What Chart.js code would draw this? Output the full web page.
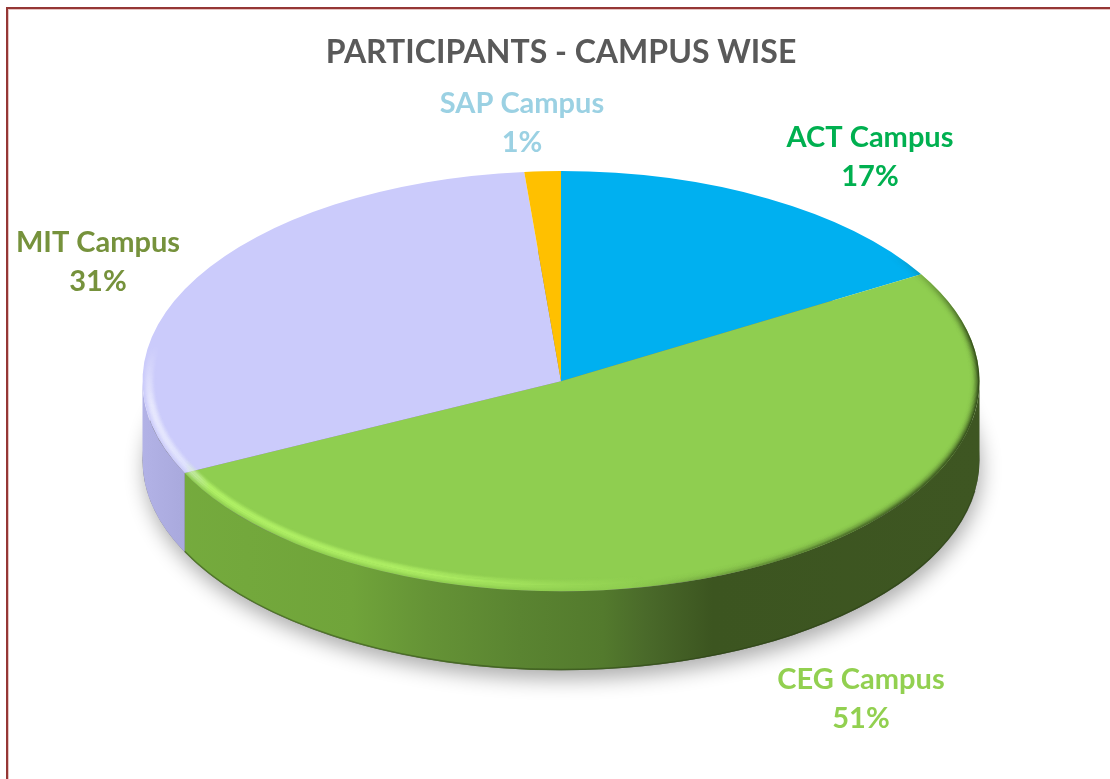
<!DOCTYPE html>
<html>
<head>
<meta charset="utf-8">
<style>
html,body{margin:0;padding:0;background:#fff;overflow:hidden}
#wrap{position:relative;width:1110px;height:779px}
canvas{display:block}
#frame{position:absolute;left:6px;top:7px;right:-10px;bottom:-10px;border-left:2px solid #953735;border-top:2px solid #953735;box-shadow:inset 1px 1px 0 #e6c4c2;pointer-events:none}
</style>
</head>
<body>
<div id="wrap"><canvas id="c" width="1110" height="779"></canvas><div id="frame"></div></div>
<script src="https://cdn.jsdelivr.net/npm/chart.js@4"></script>
<script>
const chartTitle = 'PARTICIPANTS - CAMPUS WISE';
const categories = ['ACT Campus', 'CEG Campus', 'MIT Campus', 'SAP Campus'];
const shareValues = [16.5, 51.3, 30.8, 1.4];
const sliceColors = ['#00B0F0', '#8FCE50', '#CBCBFB', '#FFC000'];
const labelColors = ['#00B050', '#92D050', '#76923C', '#9BD1E3'];

const RX = 418.5, SQUASH = 0.502, DEPTH = 79;
const LABEL_OFFSETS = [[309,-224],[300,318],[-463,-119],[-39,-258]];
const LINE_GAP = 39;
const FONT = 'Lato, Carlito, Calibri, sans-serif';

function wallFill(ctx, i) {
  const g = ctx.createLinearGradient(143, 0, 980, 0);
  if (i === 1) {
    g.addColorStop(0.00, '#76AC3E');
    g.addColorStop(0.25, '#70A43A');
    g.addColorStop(0.34, '#659336');
    g.addColorStop(0.45, '#5A8431');
    g.addColorStop(0.55, '#537A2D');
    g.addColorStop(0.60, '#4A6A2A');
    g.addColorStop(0.68, '#3C5520');
    g.addColorStop(1.00, '#3E5622');
  } else {
    g.addColorStop(0, '#B2B2E6');
    g.addColorStop(0.05, '#A9A9DD');
  }
  return g;
}

function rimLayer(w, h, cx, cy, r, ry, paint, fadeFrom, fadeTo) {
  const off = document.createElement('canvas');
  off.width = w; off.height = h;
  const o = off.getContext('2d');
  paint(o);
  const mask = o.createLinearGradient(0, fadeFrom, 0, fadeTo);
  mask.addColorStop(0, 'rgba(0,0,0,0)');
  mask.addColorStop(1, 'rgba(0,0,0,1)');
  o.globalCompositeOperation = 'destination-in';
  o.fillStyle = mask;
  o.fillRect(0, 0, w, h);
  return off;
}

const pie3d = {
  id: 'pie3d',
  beforeDatasetsDraw(chart) {
    const ctx = chart.ctx;
    const arcs = chart.getDatasetMeta(0).data;
    const cx = arcs[0].x, cy = arcs[0].y, r = arcs[0].outerRadius;
    const ry = r * SQUASH;

    // soft cast shadow
    ctx.save();
    ctx.shadowColor = 'rgba(0,0,0,0.32)';
    ctx.shadowBlur = 20;
    ctx.shadowOffsetX = 2;
    ctx.shadowOffsetY = 9;
    ctx.fillStyle = '#777';
    ctx.beginPath();
    ctx.ellipse(cx, cy + DEPTH, r, ry, 0, 0, Math.PI * 2);
    ctx.fill();
    ctx.restore();

    // side walls
    arcs.forEach((arc, i) => {
      const a0 = Math.max(arc.startAngle, 0), a1 = Math.min(arc.endAngle, Math.PI);
      if (a1 <= a0) return;
      ctx.save();
      ctx.fillStyle = wallFill(ctx, i);
      ctx.beginPath();
      ctx.ellipse(cx, cy + DEPTH, r, ry, 0, a0, a1);
      ctx.ellipse(cx, cy, r, ry, 0, a1, a0, true);
      ctx.closePath();
      ctx.fill();
      ctx.restore();
    });
    // darker lip at the foot of the wall
    ctx.save();
    ctx.strokeStyle = 'rgba(40,60,20,0.45)';
    ctx.lineWidth = 1.5;
    ctx.beginPath();
    ctx.ellipse(cx, cy + DEPTH - 0.7, r, ry, 0, 0.15, arcs[1].endAngle);
    ctx.stroke();
    ctx.restore();

    ctx.save();
    ctx.translate(cx, cy);
    ctx.scale(1, SQUASH);
    ctx.translate(-cx, -cy);
  },
  afterDatasetsDraw(chart) {
    const ctx = chart.ctx;
    ctx.restore();
    const arcs = chart.getDatasetMeta(0).data;
    const cx = arcs[0].x, cy = arcs[0].y, r = arcs[0].outerRadius;
    const ry = r * SQUASH;
    const w = chart.width, h = chart.height;
    const N = 14;

    const lightRim = rimLayer(w, h, cx, cy, r, ry, o => {
      for (let t = 0; t < N; t++) {
        const s = Math.sin((t + 0.5) / N * Math.PI);
        const bell = s * s;
        const g = o.createLinearGradient(143, 0, 980, 0);
        g.addColorStop(0, `rgba(255,255,255,${0.50 * bell})`);
        g.addColorStop(0.05, `rgba(240,245,255,${0.48 * bell})`);
        g.addColorStop(0.08, `rgba(190,255,110,${0.62 * bell})`);
        g.addColorStop(0.34, `rgba(190,255,110,${0.55 * bell})`);
        g.addColorStop(0.50, `rgba(190,255,110,${0.18 * bell})`);
        g.addColorStop(0.60, 'rgba(190,255,110,0)');
        o.strokeStyle = g;
        o.lineWidth = 1.3;
        o.beginPath();
        o.ellipse(cx, cy, r - t, ry - t, 0, 0, Math.PI * 2);
        o.stroke();
      }
    }, 345, 405);

    const darkRim = rimLayer(w, h, cx, cy, r, ry, o => {
      for (let t = 0; t < N; t++) {
        const e = 1 - t / N;
        const g = o.createLinearGradient(143, 0, 980, 0);
        g.addColorStop(0.58, 'rgba(40,60,20,0)');
        g.addColorStop(0.72, `rgba(40,60,20,${0.28 * e * e * e})`);
        g.addColorStop(1, `rgba(40,60,20,${0.9 * e * e * e})`);
        o.strokeStyle = g;
        o.lineWidth = 1.3;
        o.beginPath();
        o.ellipse(cx, cy, r - t * 0.8, ry - t * 0.8, 0, 0, Math.PI * 2);
        o.stroke();
      }
    }, 255, 340);

    ctx.save();
    ctx.beginPath();
    ctx.ellipse(cx, cy, r, ry, 0, 0, Math.PI * 2);
    ctx.clip();
    ctx.drawImage(lightRim, 0, 0);
    ctx.drawImage(darkRim, 0, 0);
    ctx.restore();

    // data labels
    ctx.save();
    ctx.font = 'bold 29px ' + FONT;
    ctx.textAlign = 'center';
    ctx.textBaseline = 'middle';
    const total = shareValues.reduce((a, b) => a + b, 0);
    categories.forEach((name, i) => {
      const x = cx + LABEL_OFFSETS[i][0], y = cy + LABEL_OFFSETS[i][1];
      ctx.fillStyle = labelColors[i];
      ctx.fillText(name, x, y - LINE_GAP / 2);
      ctx.fillText(Math.round(shareValues[i] / total * 100) + '%', x, y + LINE_GAP / 2);
    });
    ctx.restore();
  }
};

new Chart(document.getElementById('c'), {
  type: 'pie',
  data: {
    labels: categories,
    datasets: [{
      data: shareValues,
      backgroundColor: sliceColors,
      borderWidth: 0,
      radius: RX,
      clip: false
    }]
  },
  options: {
    responsive: false,
    animation: false,
    events: [],
    layout: { padding: { left: 12, bottom: 88 } },
    plugins: {
      legend: { display: false },
      tooltip: { enabled: false },
      title: {
        display: true,
        text: chartTitle,
        color: '#595959',
        fullSize: false,
        font: { family: FONT, size: 32, weight: 'bold', lineHeight: 1.2 },
        padding: { top: 33, bottom: 0 }
      }
    }
  },
  plugins: [pie3d]
});
</script>
</body>
</html>
